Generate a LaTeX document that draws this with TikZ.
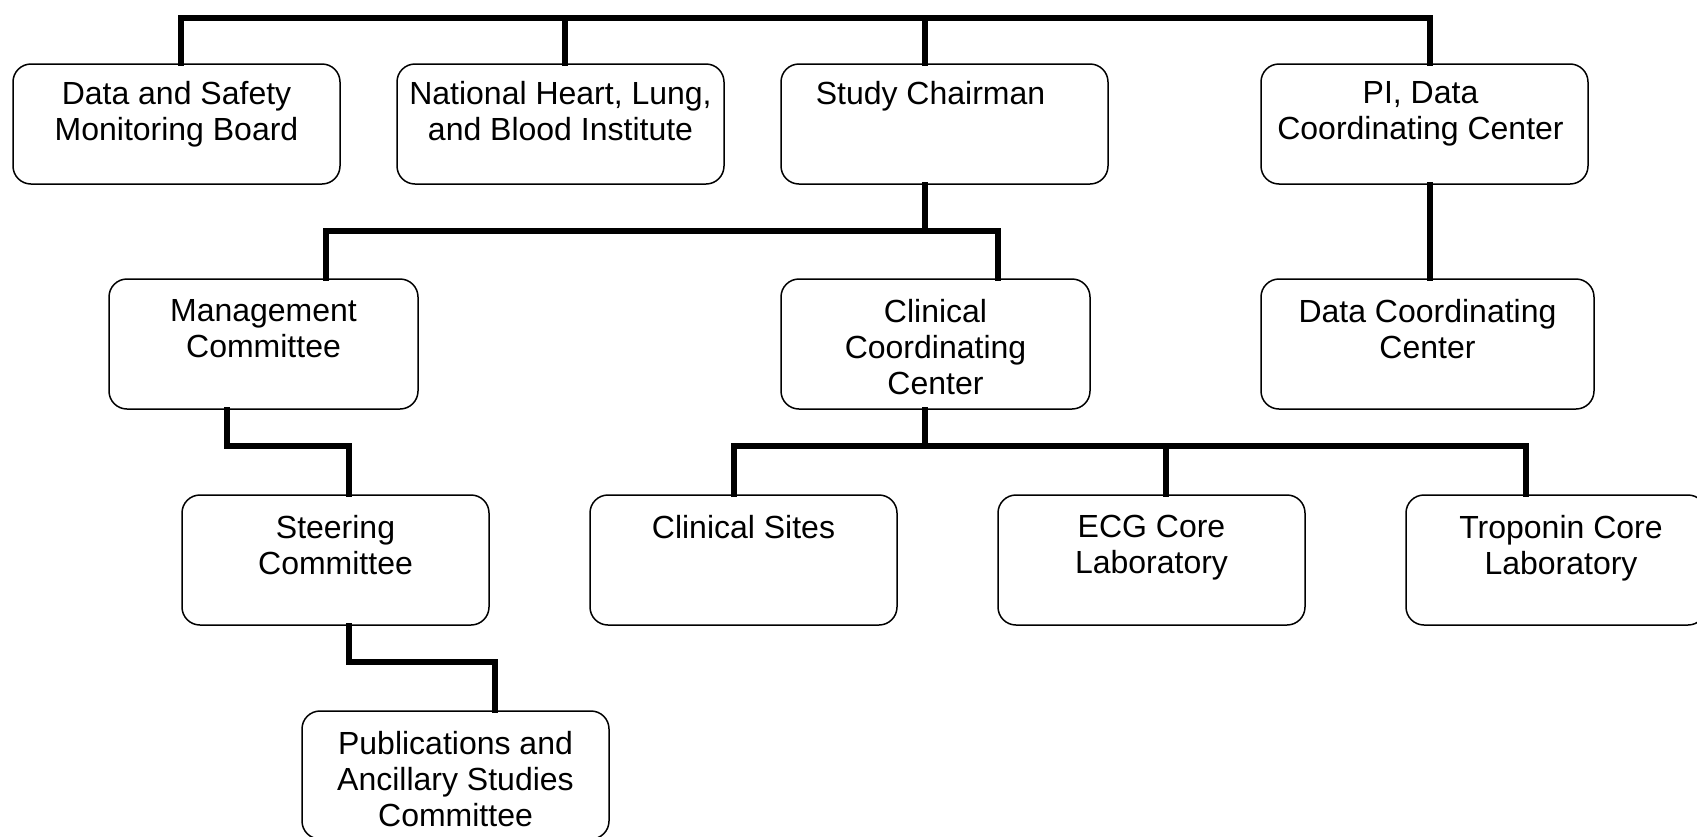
\documentclass[tikz,border=0pt]{standalone}
\usepackage{fontspec}
\setmainfont{Liberation Sans}
\usetikzlibrary{calc}
\tikzset{
  box/.style={draw=black, line width=1.5pt, rounded corners=18pt, fill=white, inner sep=0pt},
  txt/.style={anchor=north, align=center, inner sep=0pt, font=\fontsize{32}{36}\selectfont},
  conn/.style={draw=black, line width=5.5pt, line join=miter, line cap=rect}
}
\begin{document}
\begin{tikzpicture}[x=1pt,y=-1pt]
\useasboundingbox (0,0) rectangle (1697,836);
% boxes
\node[box, minimum width=327pt, minimum height=120pt] (dsmb)  at (176.5,124) {};
\node[box, minimum width=327pt, minimum height=120pt] (nhlbi) at (560.5,124) {};
\node[box, minimum width=327pt, minimum height=120pt] (chair) at (944.5,124) {};
\node[box, minimum width=327pt, minimum height=120pt] (pi)    at (1424.5,124) {};
\node[box, minimum width=309pt, minimum height=130pt] (mgmt)  at (263.5,344) {};
\node[box, minimum width=309pt, minimum height=130pt] (ccc)   at (935.5,344) {};
\node[box, minimum width=333pt, minimum height=130pt] (dcc)   at (1427.5,344) {};
\node[box, minimum width=307pt, minimum height=130pt] (steer) at (335.5,560) {};
\node[box, minimum width=307pt, minimum height=130pt] (sites) at (743.5,560) {};
\node[box, minimum width=307pt, minimum height=130pt] (ecg)   at (1151.5,560) {};
\node[box, minimum width=300pt, minimum height=130pt] (trop)  at (1556,560) {};
\node[box, minimum width=307pt, minimum height=128pt] (pub)   at (455.5,775) {};
% texts
\node[txt] (dsmbT)  at ($(dsmb.north)+(0,18)$) {Data and Safety\\Monitoring Board};
\node[txt] (nhlbiT) at ($(nhlbi.north)+(0,18)$) {National Heart, Lung,\\and Blood Institute};
\node[txt] (chairT) at ($(chair.north)+(-14,18)$) {Study Chairman};
\node[txt] (piT)    at ($(pi.north)+(-4,18)$) {PI, Data\\Coordinating Center};
\node[txt] (mgmtT)  at ($(mgmt.north)+(0,21)$) {Management\\Committee};
\node[txt] (cccT)   at ($(ccc.north)+(0,21)$) {Clinical\\Coordinating\\Center};
\node[txt] (dccT)   at ($(dcc.north)+(0,21)$) {Data Coordinating\\Center};
\node[txt] (steerT) at ($(steer.north)+(0,21)$) {Steering\\Committee};
\node[txt] (sitesT) at ($(sites.north)+(0,21)$) {Clinical Sites};
\node[txt] (ecgT)   at ($(ecg.north)+(0,21)$) {ECG Core\\Laboratory};
\node[txt] (tropT)  at ($(trop.north)+(5,21)$) {Troponin Core\\Laboratory};
\node[txt] (pubT)   at ($(pub.north)+(0,21)$) {Publications and\\Ancillary Studies\\Committee};
% bus coordinates
\coordinate (topL) at (181,18);
\coordinate (topR) at (1430,18);
\coordinate (midL) at (326,231);
\coordinate (midR) at (998,231);
\coordinate (lowL) at (734,446);
\coordinate (lowR) at (1526,446);
\coordinate (ms1) at (227,446);
\coordinate (ms2) at (349,446);
\coordinate (sp1) at (349,662);
\coordinate (sp2) at (495,662);
% connectors
\draw[conn] (dsmb.north -| topL) -- (topL) -- (topR) -- (pi.north -| topR);
\draw[conn] (nhlbi.north -| 565,0) -- (565,18);
\draw[conn] (chair.north -| 925,0) -- (925,18);
\draw[conn] (chair.south -| 925,0) -- (925,231);
\draw[conn] (mgmt.north -| midL) -- (midL) -- (midR) -- (ccc.north -| midR);
\draw[conn] (pi.south -| topR) -- (dcc.north -| topR);
\draw[conn] (mgmt.south -| ms1) -- (ms1) -- (ms2) -- (steer.north -| ms2);
\draw[conn] (ccc.south -| 925,0) -- (925,446);
\draw[conn] (sites.north -| lowL) -- (lowL) -- (lowR) -- (trop.north -| lowR);
\draw[conn] (ecg.north -| 1166,0) -- (1166,446);
\draw[conn] (steer.south -| sp1) -- (sp1) -- (sp2) -- (pub.north -| sp2);
\end{tikzpicture}
\end{document}
